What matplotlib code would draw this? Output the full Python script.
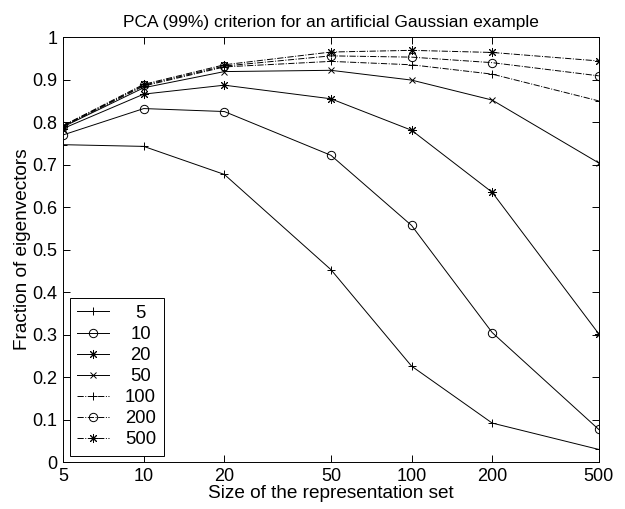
import matplotlib
matplotlib.use("Agg")
import matplotlib.pyplot as plt
from matplotlib.ticker import FixedLocator, NullLocator
from matplotlib.transforms import Affine2D

plt.rcParams['font.family'] = ['Liberation Sans', 'DejaVu Sans']

sizes = [5, 10, 20, 50, 100, 200, 500]
labels = ['5', '10', '20', '50', '100', '200', '500']

frac_5 = [0.747, 0.743, 0.677, 0.453, 0.226, 0.092, 0.030]
frac_10 = [0.770, 0.832, 0.825, 0.722, 0.557, 0.305, 0.077]
frac_20 = [0.785, 0.866, 0.887, 0.855, 0.781, 0.635, 0.302]
frac_50 = [0.789, 0.881, 0.919, 0.922, 0.899, 0.852, 0.704]
frac_100 = [0.790, 0.885, 0.930, 0.943, 0.935, 0.913, 0.850]
frac_200 = [0.791, 0.887, 0.932, 0.956, 0.953, 0.940, 0.909]
frac_500 = [0.792, 0.889, 0.935, 0.965, 0.969, 0.964, 0.944]

# matlab-style asterisk: plus and cross overlaid
star = (8, 2, 0)

series = [
    (frac_5, '+', '-', 6),
    (frac_10, 'o', '-', 6),
    (frac_20, star, '-', 6.5),
    (frac_50, 'x', '-', 4.5),
    (frac_100, '+', '-.', 6),
    (frac_200, 'o', '-.', 6),
    (frac_500, star, '-.', 6.5),
]

DPI = 100
fig = plt.figure(figsize=(6.25, 5.09), dpi=DPI)
ax = fig.add_axes([0.101, 0.092, 0.857, 0.835])

for (vals, mk, ls, ms), lab in zip(series, labels):
    ax.plot(sizes, vals, color='black', linestyle=ls, linewidth=0.7,
            marker=mk, markersize=ms, markerfacecolor='none',
            markeredgewidth=0.7, label=lab)

ax.set_xscale('log')
ax.set_xlim(5, 500)
ax.set_ylim(0, 1)
ax.xaxis.set_major_locator(FixedLocator(sizes))
ax.xaxis.set_minor_locator(NullLocator())
ax.set_xticklabels(labels)
ax.set_yticks([i / 10 for i in range(11)])
ax.set_yticklabels(['0', '0.1', '0.2', '0.3', '0.4', '0.5', '0.6', '0.7',
                    '0.8', '0.9', '1'])
ax.tick_params(direction='in', top=True, right=True, length=5,
               labelsize=13, width=0.7, pad=4)
for sp in ax.spines.values():
    sp.set_linewidth(0.7)

ax.set_title('PCA (99%) criterion for an artificial Gaussian example',
             fontsize=12.5, pad=7)
ax.set_xlabel('Size of the representation set', fontsize=13.7, labelpad=0)
ax.set_ylabel('Fraction of eigenvectors', fontsize=13.7, labelpad=1)

leg_fs = 13.3
leg = ax.legend(loc='lower left', fontsize=leg_fs, fancybox=False,
                edgecolor='black', framealpha=1, handlelength=1.75,
                handletextpad=0.85, borderpad=0.4, borderaxespad=0.35,
                labelspacing=0.22)
leg.get_frame().set_linewidth(0.7)

# centre the shorter labels within the width of a three-digit label
digit_px = 0.556 * leg_fs * DPI / 72
for t in leg.get_texts():
    dx = (3 - len(t.get_text())) * digit_px / 2
    t.set_transform(t.get_transform() + Affine2D().translate(dx, 0))

fig.savefig('out.png', dpi=DPI)
